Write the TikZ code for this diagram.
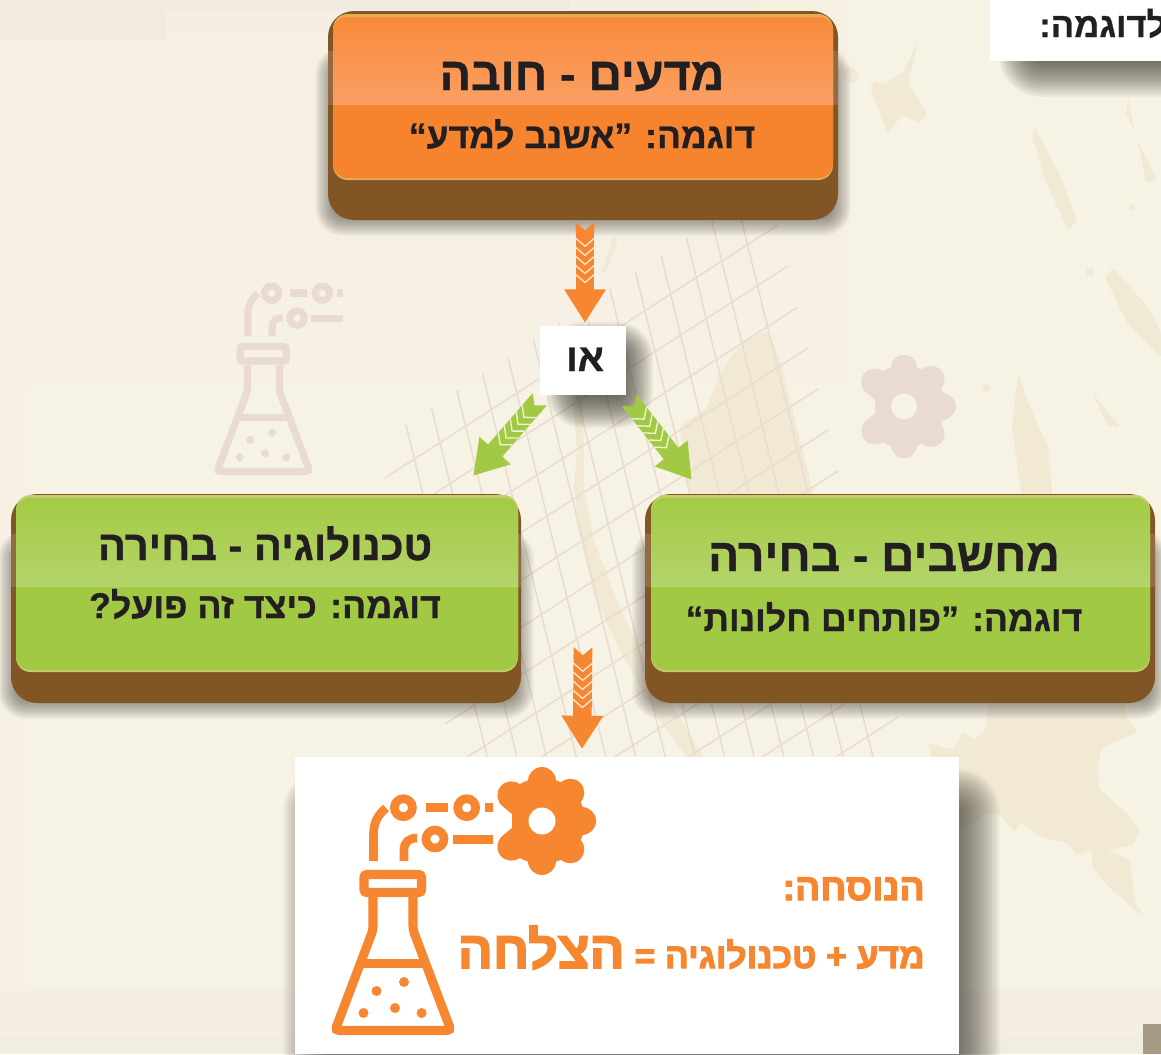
\documentclass[tikz,border=0pt]{standalone}
\usepackage{fontspec}
\usepackage{graphicx}
\usetikzlibrary{arrows.meta,calc,decorations.markings}
\TeXXeTstate=1
\newfontfamily\heb[Script=Hebrew,BoldFeatures={FakeBold=0.8}]{Liberation Sans}
\newfontfamily\hebH[Script=Hebrew,BoldFeatures={FakeBold=3}]{Liberation Sans}
\definecolor{inkc}{HTML}{231F20}
\definecolor{brownc}{HTML}{825624}
\definecolor{orangec}{HTML}{F6862F}
\definecolor{greenc}{HTML}{A2C944}
\definecolor{basec}{HTML}{F7F3E4}
\definecolor{landc}{HTML}{F2E9D5}
\definecolor{gridc}{HTML}{E9DCD1}
\definecolor{ghostc}{HTML}{EADBD0}
\definecolor{shadc}{HTML}{35322A}
\definecolor{bgA}{HTML}{F6F1E4}
\definecolor{bgB}{HTML}{F6F0E3}
\definecolor{bgC}{HTML}{F5EEE2}
\definecolor{bgD}{HTML}{F2EBE0}
\definecolor{bgE}{HTML}{F2EAE0}
\definecolor{bgF}{HTML}{F7F1E5}
\definecolor{bgG}{HTML}{F3ECE0}
\definecolor{bgH}{HTML}{A59A86}
\definecolor{chevO}{HTML}{FDE6D0}
\definecolor{chevG}{HTML}{EEF5D8}
\tikzset{
  brownbox/.style={fill=brownc,draw=none,rounded corners=19.5pt,inner sep=0pt},
  whitebox/.style={fill=white,draw=none,inner sep=0pt},
  txt/.style={text=inkc,inner sep=0pt,anchor=base},
  ftxt/.style={text=orangec,inner sep=0pt,anchor=base east},
  land/.style={fill=landc,draw=none,rounded corners=2pt},
  chevconn/.style n args={2}{
    draw=#1,line width=14pt,shorten <=6pt,
    -{Triangle[length=25pt,width=29.5pt]},
    postaction={decorate,decoration={markings,
      mark=at position 0.01pt with {\fill[#1,draw=none] (0,7pt)--(6pt,0)--(0,-7pt)--(8pt,-7pt)--(8pt,7pt)--cycle;},
      mark=between positions 12pt and 42pt step 6.8pt with {\draw[#2,line width=1pt,-,shorten <=0pt,shorten >=0pt] (0,7pt)--(6pt,0)--(0,-7pt);}
    }}
  }
}
% args: x1 y1 x2 y2 spread step-opacity
\newcommand{\softshadow}[6]{%
  \foreach \i in {0,...,27}{%
    \pgfmathsetmacro\ee{#5*(1-2*\i/27)}%
    \pgfmathsetmacro\rr{max(0.5,(\ee+#5)*0.75)}%
    \fill[shadc,opacity=#6,rounded corners=\rr pt] ({#1-\ee},{#2-\ee}) rectangle ({#3+\ee},{#4+\ee});
  }%
}
% name, outer x1 y1 x2 y2, inner x1 y1 x2 y2; uses \gy and colours gtop gbot glow gedge
\newcommand{\glossbox}[9]{%
  \softshadow{#2+1}{#3+50}{#4-1}{#5+2}{14}{0.03}
  \node[brownbox,minimum width={(#4-#2)*0.75pt},minimum height={(#5-#3)*0.75pt}] (#1) at ({(#2+#4)/2},{(#3+#5)/2}) {};
  \fill[white,opacity=.13] (#2,{#3+40}) rectangle (#4,\gy);
  \fill[gedge,rounded corners=11pt] ({#6},{#7-3}) rectangle (#8,{#9+2});
  \fill[glow,rounded corners=11pt] (#6,#7) rectangle (#8,#9);
  \shade[top color=gtop,bottom color=gbot] (#6,\gy) [rounded corners=11pt] -- (#6,#7) -- (#8,#7) [sharp corners] -- (#8,\gy) -- cycle;
}
\newcommand{\flaskicon}[4]{% x y scale colour
\begin{scope}[shift={(#1,#2)},scale=#3]
  \draw[#4,line width=#3*6.8pt,rounded corners=#3*3pt] (373,897) -- (373,930) -- (335,1030.5) -- (451,1030.5) -- (413,930) -- (413,897);
  \draw[#4,line width=#3*6.8pt,rounded corners=#3*2pt] (364,874.5) rectangle (421.5,892.5);
  \draw[#4,line width=#3*6.8pt] (360,963.5) -- (426,963.5);
  \foreach \p in {(404,982),(376.5,991),(395,1008),(363.5,1013),(421.6,1013)} \fill[#4] \p circle (5);
  \draw[#4,line width=#3*6.5pt] (373.5,861) -- (373.5,835) .. controls (373.5,822) and (378,815) .. (386,808);
  \draw[#4,line width=#3*6.5pt] (404,861) -- (404,850) .. controls (404,842) and (409,838) .. (417,838);
  \foreach \p in {(403.4,807.7),(466.7,807.7),(435,839)} \draw[#4,line width=#3*6.5pt] \p circle (9);
  \fill[#4] (426,803) rectangle (448,812);
  \fill[#4] (484.5,803) rectangle (493,812);
  \fill[#4] (453,835) rectangle (493,844);
\end{scope}}
\newcommand{\gearicon}[5]{% x y scale colour hole
\begin{scope}[shift={(#1,#2)},scale=#3]
  \begin{scope}
    \clip (512,760) rectangle (610,880);
    \fill[#4] (542,821) circle (43);
  \end{scope}
  \foreach \a in {0,45,90,-45,-90,140,-140}
    \draw[#4,line width=#3*21pt,line cap=round] (542,821) -- ++(\a:40);
  \fill[#5] (542,821) circle (13.5);
\end{scope}}
\begin{document}
\begin{tikzpicture}[x=0.75pt,y=-0.75pt]
\useasboundingbox (0,0) rectangle (1161,1054);
\clip (0,0) rectangle (1161,1054);
% background
\fill[basec] (0,0) rectangle (1161,1054);
\fill[bgF] (0,0) rectangle (28,990);
\fill[bgA] (0,0) rectangle (850,385);
\fill[bgB] (0,0) rectangle (850,270);
\fill[bgC] (0,0) rectangle (760,35);
\fill[bgD] (0,0) rectangle (570,10);
\fill[bgE] (0,0) rectangle (165,40);
\fill[bgC] (0,990) rectangle (1161,1054);
\fill[bgG] (0,1035) rectangle (1161,1054);
\fill[bgH] (1143,1024) rectangle (1161,1054);
% map blotches
\fill[land] (918,42)--(908,83)--(927,113)--(920,123)--(902,115)--(887,135)--(885,127)--(870,87)--(875,80)--(883,85)--(898,75)--(903,72)--cycle;
\fill[landc] (850,75) circle (8);
\fill[land] (1035,127)--(1060,175)--(1077,220)--(1068,230)--(1045,180)--(1032,135)--cycle;
\fill[land] (1138,142)--(1157,180)--(1146,183)--cycle;
\fill[land] (1128,97)--(1135,133)--(1126,113)--cycle;
\fill[landc] (1132,207) circle (3);
\fill[land] (1113,268)--(1148,307)--(1161,333)--(1161,357)--(1127,323)--(1105,277)--cycle;
\fill[landc] (1090,272) circle (4);
\fill[land] (1018,373)--(1027,400)--(1048,447)--(1053,500)--(1022,500)--(1012,427)--cycle;
\fill[land] (1092,392)--(1120,427)--(1107,425)--cycle;
\fill[landc] (986,388) circle (4);
\fill[land] (614,236)--(602,272)--(606,272)--(618,240)--cycle;
\fill[land] (768,331)--(745,340)--(725,365)--(705,410)--(680,425)--(690,500)--(815,500)--(795,420)--(780,360)--cycle;
\fill[land] (573,397)--(577,451)--(574,487)--(577,523)--(594,595)--(619,649)--(659,720)--(689,760)--(705,760)--(646,663)--(619,605)--(594,541)--(584,487)--(584,451)--(582,397)--cycle;
\fill[land] (988,700)--(987,727)--(975,740)--(963,732)--(953,750)--(928,743)--(935,770)--(960,833)--(987,813)--(1000,815)--(1015,833)--(1020,822)--(1040,837)--(1067,843)--(1077,855)--(1092,850)--(1092,867)--(1107,885)--(1127,903)--(1145,918)--(1135,903)--(1130,860)--(1107,850)--(1133,845)--(1140,830)--(1127,813)--(1100,790)--(1097,770)--(1102,747)--(1138,732)--(1127,717)--(1123,700)--cycle;
% grid
\foreach \k in {0,...,13}
  \draw[gridc,line width=1.2pt] ({385+10*\k},{478+41*\k}) -- ({778+10*\k},{225+41*\k});
\foreach \j in {0,...,13}
  \draw[gridc,line width=1.2pt] ({406+25.5*\j},{425-17*\j}) -- ({548+25.5*\j},{1005-17*\j});
% ghost icons
\flaskicon{-51}{-353}{0.8}{ghostc}
\gearicon{383.7}{-381.7}{0.96}{ghostc}{basec}
% white boxes with shadows
\softshadow{1020}{-30}{1300}{75}{22}{0.045}
\node[whitebox,minimum width=200*0.75pt,minimum height=61*0.75pt,anchor=north west] (ex) at (990,0) {};
\node[txt,anchor=base west] (exT) at (1039,37) {\heb\bfseries\fontsize{26}{26}\selectfont\beginR לדוגמה:\endR};
% coloured boxes
\definecolor{gtop}{HTML}{F88A39}\definecolor{gbot}{HTML}{FAA063}\definecolor{glow}{HTML}{F6842F}\definecolor{gedge}{HTML}{E3AC55}
\def\gy{105}
\glossbox{sci}{328}{11}{838}{220}{333}{17}{833}{178}
\definecolor{gtop}{HTML}{A3CA45}\definecolor{gbot}{HTML}{B4D56A}\definecolor{glow}{HTML}{A2C944}\definecolor{gedge}{HTML}{C2CE6A}
\def\gy{587}
\glossbox{tech}{11}{494}{521}{703}{16}{498}{518}{670}
\glossbox{comp}{645}{494}{1155}{703}{651}{498}{1150}{670}
\node[txt] (sciT) at (582,90) {\heb\bfseries\fontsize{34.8}{35}\selectfont\beginR מדעים - חובה\endR};
\node[txt] (sciS) at (582,148) {\heb\bfseries\fontsize{26.6}{27}\selectfont\beginR דוגמה: ”אשנב למדע“\endR};
\node[txt] (techT) at (265,560) {\heb\bfseries\fontsize{31.2}{32}\selectfont\beginR טכנולוגיה - בחירה\endR};
\node[txt] (techS) at (265,618) {\heb\bfseries\fontsize{26.8}{27}\selectfont\beginR דוגמה: כיצד זה פועל?\endR};
\node[txt] (compT) at (884,571) {\heb\bfseries\fontsize{34.6}{35}\selectfont\beginR מחשבים - בחירה\endR};
\node[txt] (compS) at (884,631) {\heb\bfseries\fontsize{26.7}{27}\selectfont\beginR דוגמה: ”פותחים חלונות“\endR};
% or box
\softshadow{565}{340}{635}{410}{18}{0.045}
\node[whitebox,minimum width=86*0.75pt,minimum height=69*0.75pt] (orbox) at (583,360.5) {};
\node[txt] (orT) at (585,371) {\heb\bfseries\fontsize{29}{29}\selectfont\beginR או\endR};
% formula box
\softshadow{305}{790}{978}{1120}{22}{0.035}
\node[whitebox,minimum width=664*0.75pt,minimum height=297*0.75pt,anchor=north west] (formula) at (295,757) {};
\flaskicon{0}{0}{1}{orangec}
\gearicon{0}{0}{1}{orangec}{white}
\node[ftxt] (fT) at (925,900) {\hebH\bfseries\fontsize{28}{28}\selectfont\beginR הנוסחה:\endR};
\node[ftxt] (fS) at (925,968) {\hebH\bfseries\fontsize{26.5}{27}\selectfont\beginR מדע + טכנולוגיה = {\fontsize{39}{39}\selectfont הצלחה}\endR};
% connectors
\draw[chevconn={orangec}{chevO}] ($(sci.south)+(2,2)$) -- ($(orbox.north)+(2,-3)$);
\draw[chevconn={greenc}{chevG}] ($(orbox.south west)+(0,4)$) -- ($(tech.north east)+(-48,-18)$);
\draw[chevconn={greenc}{chevG}] ($(orbox.south east)+(3,5)$) -- ($(comp.north west)+(47,-14)$);
\draw[chevconn={orangec}{chevO}] ($(tech.south east)!.5!(comp.south west)+(0,-56)$) -- ($(formula.north west)+(287,-8)$);
\end{tikzpicture}
\end{document}
